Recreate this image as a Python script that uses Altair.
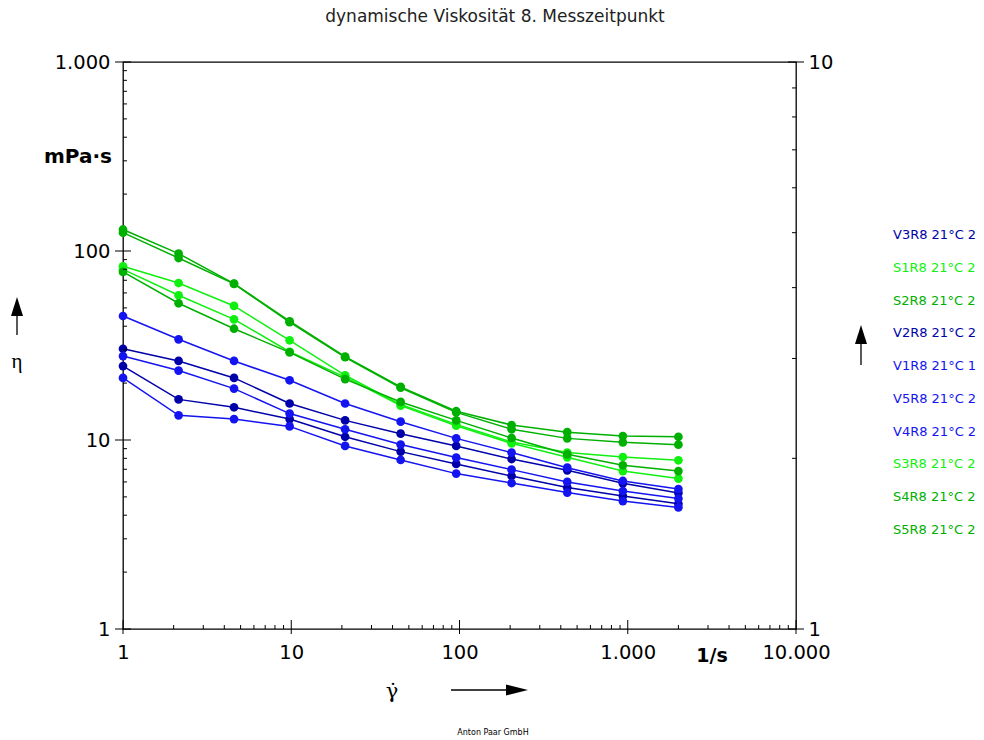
import altair as alt
import pandas as pd

# Shear rates (1/s), log-spaced measuring points
shear_rate = [1, 2.14, 4.57, 9.78, 20.9, 44.7, 95.6, 204, 437, 935, 2000]

# Curve names in legend order
series_names = [
    "V3R8 21°C 2", "S1R8 21°C 2", "S2R8 21°C 2", "V2R8 21°C 2", "V1R8 21°C 1",
    "V5R8 21°C 2", "V4R8 21°C 2", "S3R8 21°C 2", "S4R8 21°C 2", "S5R8 21°C 2",
]
series_colors = [
    "#0000A8", "#10F010", "#00B000", "#0000A8", "#1414F0",
    "#1414F0", "#1414F0", "#10F010", "#00B000", "#00B000",
]

# Dynamic viscosity (mPa·s) per curve
v3 = [30.4, 26.2, 21.3, 15.6, 12.7, 10.8, 9.3, 7.93, 6.91, 5.9, 5.25]
s1 = [83, 67.7, 51.2, 33.7, 22.0, 15.4, 12.1, 9.76, 8.58, 8.13, 7.81]
s2 = [130, 96.9, 67.2, 42.5, 27.6, 19.1, 14.2, 12.0, 11.0, 10.5, 10.4]
v2 = [24.6, 16.4, 14.9, 12.9, 10.4, 8.68, 7.47, 6.45, 5.6, 5.05, 4.6]
v1 = [45.3, 34.1, 26.2, 20.7, 15.6, 12.5, 10.2, 8.58, 7.14, 6.07, 5.5]
v5 = [27.8, 23.3, 18.7, 13.8, 11.4, 9.46, 8.07, 6.97, 6.0, 5.37, 4.9]
v4 = [21.3, 13.5, 12.9, 11.8, 9.3, 7.84, 6.64, 5.92, 5.27, 4.75, 4.4]
s3 = [80, 58.3, 43.5, 29.3, 21.5, 15.2, 11.9, 9.6, 8.1, 6.85, 6.25]
s4 = [125, 91.8, 67.0, 42.0, 27.4, 18.9, 14.0, 11.4, 10.2, 9.72, 9.45]
s5 = [77.5, 52.9, 38.8, 29.1, 21.0, 15.9, 12.7, 10.25, 8.4, 7.35, 6.85]
viscosity = [v3, s1, s2, v2, v1, v5, v4, s3, s4, s5]

# Axis tick values
x_major = [1, 10, 100, 1000, 10000]
y_major = [1, 10, 100, 1000]
right_major = [1, 10]
minor_steps = [2, 3, 4, 5, 6, 7, 8, 9]

W, H = 673, 567
FONT = "DejaVu Sans"

rows = []
for name, values in zip(series_names, viscosity):
    for r, eta in zip(shear_rate, values):
        rows.append({"series": name, "rate": r, "eta": eta})
df = pd.DataFrame(rows)
legend_df = pd.DataFrame({"series": series_names, "idx": list(range(len(series_names)))})

x_minor = [k * 10 ** d for d in range(4) for k in minor_steps]
y_minor = [k * 10 ** d for d in range(3) for k in minor_steps]

xscale = alt.Scale(type="log", domain=[1, 10000])
yscale = alt.Scale(type="log", domain=[1, 1000])
rscale = alt.Scale(type="log", domain=[1, 10])
cscale = alt.Scale(domain=series_names, range=series_colors)

german = "replace(format(datum.value, ','), ',', '.')"
label_style = dict(
    ticks=False, domain=False, grid=False, title=None, labelFont=FONT,
    labelFontSize=19.5, labelColor="black", labelFlush=False, labelOverlap=False,
)
x_axis = alt.Axis(values=x_major, labelExpr=german, labelPadding=14, **label_style)
y_axis = alt.Axis(values=y_major, labelExpr=german, labelPadding=13, **label_style)
r_axis = alt.Axis(values=right_major, orient="right", labelPadding=12, **label_style)

base = alt.Chart(df)
lines = base.mark_line(strokeWidth=1.5).encode(
    x=alt.X("rate:Q", scale=xscale, axis=x_axis),
    y=alt.Y("eta:Q", scale=yscale, axis=y_axis),
    color=alt.Color("series:N", scale=cscale, legend=None),
    detail="series:N",
)
points = base.mark_circle(size=76, opacity=1).encode(
    x=alt.X("rate:Q", scale=xscale, axis=x_axis),
    y=alt.Y("eta:Q", scale=yscale, axis=y_axis),
    color=alt.Color("series:N", scale=cscale, legend=None),
)

# Tick marks: major ticks cross the axis line, minor ticks point inward
def vticks(values, y0, y1):
    return alt.Chart(pd.DataFrame({"v": values})).mark_rule(color="black", strokeWidth=1).encode(
        x=alt.X("v:Q", scale=xscale, axis=x_axis), y=alt.value(y0), y2=alt.value(y1)
    )

def hticks(values, x0, x1, scale, axis):
    return alt.Chart(pd.DataFrame({"v": values})).mark_rule(color="black", strokeWidth=1).encode(
        y=alt.Y("v:Q", scale=scale, axis=axis), x=alt.value(x0), x2=alt.value(x1)
    )

x_ticks = vticks(x_major, H - 9, H + 5) + vticks(x_minor, H - 4, H)
y_ticks = hticks(y_major, -8, 8, yscale, y_axis) + hticks(y_minor, 0, 4, yscale, y_axis)

# Curve legend as coloured text at the right
legend_text = alt.Chart(legend_df).transform_calculate(
    ly="173.3 + datum.idx * 32.7"
).mark_text(align="left", baseline="middle", font=FONT, fontSize=13).encode(
    x=alt.value(770),
    y=alt.Y("ly:Q", scale=None),
    text="series:N",
    color=alt.Color("series:N", scale=cscale, legend=None),
)

def label(text, x, y, size=19.5, weight="normal", font=FONT, align="center", color="black"):
    return alt.Chart(pd.DataFrame({"t": [text]})).mark_text(
        font=font, fontSize=size, fontWeight=weight, align=align, baseline="middle", color=color
    ).encode(x=alt.value(x), y=alt.value(y), text="t:N")

def arrow_up(x, y_tip, length):
    shaft = alt.Chart(pd.DataFrame({"a": [0]})).mark_rule(color="black", strokeWidth=1.3).encode(
        x=alt.value(x), y=alt.value(y_tip + 10), y2=alt.value(y_tip + length)
    )
    head = alt.Chart(pd.DataFrame({"a": [0]})).mark_point(
        shape="M0,-1L0.63,1L-0.63,1Z", filled=True, size=361, color="black", opacity=1
    ).encode(x=alt.value(x), y=alt.value(y_tip + 9.5))
    return shaft + head

def arrow_right(x0, x_tip, y):
    shaft = alt.Chart(pd.DataFrame({"a": [0]})).mark_rule(color="black", strokeWidth=1.3).encode(
        x=alt.value(x0), x2=alt.value(x_tip - 10), y=alt.value(y)
    )
    head = alt.Chart(pd.DataFrame({"a": [0]})).mark_point(
        shape="M1,0L-1,0.5L-1,-0.5Z", filled=True, size=484, color="black", opacity=1
    ).encode(x=alt.value(x_tip - 11), y=alt.value(y))
    return shaft + head

annotations = (
    label("dynamische Viskosität 8. Messzeitpunkt", 372, -45, size=17, color="#222222")
    + label("mPa·s", -11, 95, size=20, weight="bold", align="right")
    + label("η", -106, 300, size=21, font="Liberation Serif")
    + label("1/s", 589, 594, size=19, weight="bold")
    + label("γ̇", 269, 630, size=21, font="DejaVu Serif")
    + label("Anton Paar GmbH", 370, 671, size=8)
    + arrow_up(-106, 235, 38)
    + arrow_up(738, 263, 40)
    + arrow_right(328, 405, 628)
)

main = alt.layer(lines, points, x_ticks, y_ticks, legend_text, annotations)

right = alt.layer(
    hticks(right_major, W - 8, W + 8, rscale, r_axis),
    hticks(minor_steps, W - 4, W, rscale, r_axis),
)

chart = alt.layer(main, right).resolve_scale(y="independent").properties(
    width=W,
    height=H,
    padding={"left": 123, "top": 62, "right": 188, "bottom": 111},
    autosize=alt.AutoSizeParams(type="none"),
    background="white",
).configure_view(stroke="black", strokeWidth=1.3)

chart.save("out.html", embed_options={"renderer": "svg", "actions": False})
